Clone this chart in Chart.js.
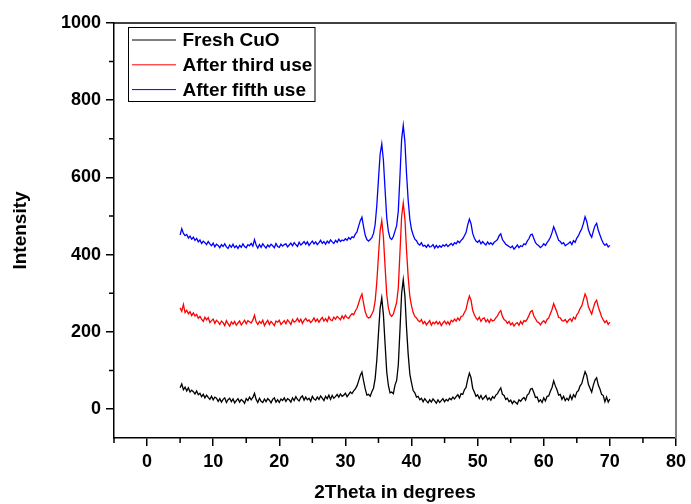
<!DOCTYPE html>
<html>
<head>
<meta charset="utf-8">
<title>XRD CuO</title>
<script src="https://cdn.jsdelivr.net/npm/chart.js@4.4.1/dist/chart.umd.min.js"></script>
<style>
html, body { margin: 0; padding: 0; background: #fff; }
#xrd-wrap { width: 691px; height: 504px; }
</style>
</head>
<body>
<div id="xrd-wrap"><canvas id="xrd-chart" width="691" height="504"></canvas></div>
<script>
// 2theta sampling of the scans (degrees)
const twoThetaStart = 5.0;
const twoThetaStep = 0.25;

// intensities, one group per degree (.00 .25 .50 .75)
const freshCuO = [
    55, 65, 50, 57,   47, 55, 44, 49,   45, 39, 47, 37,   41, 32, 38, 29,   36, 30, 25, 33,
    24, 31, 28, 20,   27, 18, 25, 29,   17, 24, 28, 19,   26, 16, 22, 27,   18, 25, 21, 15,
    27, 22, 31, 24,   30, 41, 25, 17,   28, 20, 17, 26,   19, 27, 23, 16,   25, 29, 18, 24,
    17, 26, 22, 29,   20, 27, 24, 18,   29, 22, 32, 25,   21, 30, 34, 23,   31, 24, 28, 20,
    33, 26, 23, 31,   25, 34, 28, 22,   33, 27, 36, 25,   35, 28, 32, 38,   31, 39, 33, 36,
    41, 32, 38, 44,   40, 47, 52, 60,   73, 87, 96, 73,   52, 36, 38, 33,   45, 54, 79, 127,
    196, 261, 288, 244,   169, 96, 61, 42,   44, 40, 62, 74,   114, 204, 299, 335,   293, 209, 141, 90,
    68, 48, 42, 31,   33, 24, 28, 19,   27, 21, 16, 24,   18, 26, 21, 15,   24, 17, 22, 27,
    19, 25, 21, 28,   24, 31, 26, 32,   37, 29, 40, 38,   50, 56, 77, 93,   81, 54, 44, 33,
    37, 27, 35, 25,   30, 35, 24, 29,   23, 32, 28, 36,   40, 48, 55, 38,   35, 25, 28, 19,
    23, 14, 21, 17,   13, 24, 20, 26,   30, 23, 36, 40,   52, 53, 43, 30,   31, 19, 24, 17,
    29, 21, 33, 34,   46, 56, 73, 60,   50, 36, 38, 25,   33, 22, 28, 23,   36, 25, 37, 31,
    44, 48, 60, 66,   82, 97, 87, 64,   54, 44, 62, 75,   81, 62, 52, 38,   35, 19, 31, 18,
    26
];

const thirdUse = [
    262, 253, 271, 250,   256, 247, 252, 242,   249, 241, 245, 235,   240, 233, 227, 238,   231, 237, 224, 229,
    233, 222, 230, 226,   219, 228, 224, 216,   229, 221, 215, 226,   220, 227, 217, 223,   228, 218, 224, 230,
    221, 229, 226, 223,   231, 243, 226, 219,   227, 222, 230, 216,   224, 230, 219, 227,   222, 216, 228, 225,
    230, 219, 224, 229,   221, 231, 226, 219,   232, 225, 228, 235,   226, 233, 222, 230,   235, 228, 231, 224,
    229, 236, 227, 233,   225, 232, 237, 228,   234, 227, 239, 231,   229, 238, 233, 240,   236, 231, 241, 234,
    243, 237, 235, 242,   247, 244, 254, 261,   274, 288, 298, 274,   252, 240, 236, 238,   246, 255, 280, 329,
    397, 461, 488, 445,   369, 297, 262, 245,   240, 246, 261, 276,   314, 405, 498, 534,   493, 410, 341, 291,
    267, 250, 240, 236,   229, 226, 232, 221,   227, 218, 224, 229,   217, 225, 221, 227,   220, 226, 216, 223,
    228, 220, 226, 219,   230, 226, 233, 228,   236, 230, 240, 241,   250, 258, 278, 293,   282, 256, 244, 236,
    231, 238, 227, 234,   236, 226, 232, 224,   233, 228, 230, 236,   241, 250, 255, 240,   232, 229, 222, 227,
    218, 223, 215, 221,   224, 217, 227, 220,   229, 227, 233, 242,   252, 255, 241, 234,   226, 224, 218, 225,
    229, 223, 232, 236,   247, 258, 273, 262,   251, 237, 236, 229,   228, 232, 224, 230,   234, 227, 238, 233,
    244, 250, 261, 267,   283, 298, 288, 265,   255, 246, 262, 276,   282, 264, 252, 239,   231, 224, 229, 219,
    225
];

const fifthUse = [
    451, 467, 455, 449,   452, 443, 448, 440,   445, 437, 442, 433,   438, 429, 435, 431,   426, 434, 428, 423,
    430, 420, 427, 424,   418, 426, 421, 428,   420, 416, 425, 419,   427, 418, 423, 416,   424, 419, 428, 421,
    418, 426, 423, 429,   422, 439, 425, 417,   426, 419, 428, 422,   417, 425, 420, 427,   423, 418, 429, 421,
    419, 427, 422, 426,   428, 420, 425, 430,   423, 431, 426, 421,   432, 425, 429, 434,   427, 433, 424, 430,
    435, 428, 433, 426,   431, 437, 429, 434,   427, 435, 430, 438,   433, 429, 437, 432,   440, 434, 438, 436,
    441, 437, 444, 440,   446, 444, 453, 459,   474, 488, 497, 472,   450, 439, 435, 439,   444, 455, 478, 528,
    595, 660, 687, 644,   568, 496, 460, 443,   439, 447, 461, 475,   513, 603, 698, 735,   692, 608, 540, 491,
    465, 451, 440, 436,   428, 425, 431, 422,   424, 419, 426, 420,   421, 426, 417, 424,   418, 423, 419, 425,
    422, 427, 421, 425,   429, 424, 431, 428,   435, 431, 437, 441,   449, 457, 477, 492,   480, 455, 443, 435,
    432, 437, 428, 434,   429, 425, 433, 427,   431, 426, 432, 435,   439, 449, 454, 439,   433, 427, 424, 421,
    418, 422, 414, 419,   425, 418, 423, 421,   428, 426, 435, 441,   451, 453, 442, 431,   426, 423, 418, 422,
    428, 424, 431, 437,   445, 457, 472, 461,   449, 437, 434, 428,   431, 423, 426, 429,   433, 426, 436, 432,
    443, 449, 459, 467,   481, 498, 486, 465,   453, 445, 461, 475,   481, 463, 451, 439,   430, 424, 428, 420,
    424
];

const seriesNames = ['Fresh CuO', 'After third use', 'After fifth use'];
const seriesColors = ['#000000', '#ff0000', '#0000ff'];

const xTicks = [0, 10, 20, 30, 40, 50, 60, 70, 80];
const xMinorTicks = [-5, 5, 15, 25, 35, 45, 55, 65, 75];
const yTicks = [0, 200, 400, 600, 800, 1000];
const yMinorTicks = [100, 300, 500, 700, 900];

const toPoints = arr => arr.map((v, i) => ({ x: twoThetaStart + i * twoThetaStep, y: v }));

const tickFont = { family: '"Liberation Sans", Arial, sans-serif', size: 18, weight: 'bold' };
const titleFont = { family: '"Liberation Sans", Arial, sans-serif', size: 19, weight: 'bold' };

// top/right frame edges, short minor ticks and the boxed legend
const framePlugin = {
    id: 'frame',
    afterDraw(chart) {
        const { ctx, chartArea: a, scales } = chart;
        ctx.save();
        ctx.lineWidth = 1.5;
        ctx.strokeStyle = '#000';
        ctx.beginPath();
        ctx.moveTo(a.left, a.top);
        ctx.lineTo(a.right, a.top);
        ctx.stroke();

        ctx.lineWidth = 2;
        ctx.strokeStyle = '#808080';
        ctx.beginPath();
        ctx.moveTo(a.right, a.top - 0.75);
        ctx.lineTo(a.right, a.bottom);
        ctx.stroke();

        ctx.lineWidth = 1.5;
        ctx.strokeStyle = '#000';
        ctx.beginPath();
        xMinorTicks.forEach(v => {
            const px = scales.x.getPixelForValue(v);
            ctx.moveTo(px, a.bottom);
            ctx.lineTo(px, a.bottom + 5);
        });
        yMinorTicks.forEach(v => {
            const py = scales.y.getPixelForValue(v);
            ctx.moveTo(a.left, py);
            ctx.lineTo(a.left - 5, py);
        });
        ctx.stroke();

        // legend
        const lx = a.left + 14.5, ly = a.top + 4.5;
        ctx.lineWidth = 1;
        ctx.strokeStyle = '#000';
        ctx.strokeRect(lx, ly, 186.5, 74);
        ctx.font = 'bold 19px "Liberation Sans", Arial, sans-serif';
        ctx.textBaseline = 'middle';
        ctx.fillStyle = '#000';
        chart.data.datasets.forEach((ds, i) => {
            const rowY = ly + 12.5 + i * 24.8;
            ctx.strokeStyle = ds.borderColor;
            ctx.beginPath();
            ctx.moveTo(lx + 3.5, rowY);
            ctx.lineTo(lx + 47.5, rowY);
            ctx.stroke();
            ctx.fillText(ds.label, lx + 54, rowY + 1);
        });
        ctx.restore();
    }
};

new Chart(document.getElementById('xrd-chart'), {
    type: 'line',
    data: {
        datasets: [freshCuO, thirdUse, fifthUse].map((arr, i) => ({
            label: seriesNames[i],
            data: toPoints(arr),
            borderColor: seriesColors[i],
            borderWidth: 1.3,
            pointRadius: 0,
            tension: 0,
            fill: false
        }))
    },
    options: {
        responsive: false,
        animation: false,
        devicePixelRatio: 1,
        layout: { padding: { top: 23, right: 12, left: 0, bottom: 0 } },
        plugins: {
            legend: { display: false },
            tooltip: { enabled: false }
        },
        scales: {
            x: {
                type: 'linear',
                min: -5,
                max: 80,
                afterBuildTicks: s => { s.ticks = xTicks.map(v => ({ value: v })); },
                afterFit: s => { s.height = 66; },
                grid: { drawOnChartArea: false, tickLength: 8, color: '#000', lineWidth: 1.5 },
                border: { color: '#000', width: 1.5 },
                ticks: { color: '#000', font: tickFont, padding: 5, maxRotation: 0, autoSkip: false, callback: v => String(v) },
                title: { display: true, text: '2Theta in degrees', color: '#000', font: titleFont, padding: { top: 0, bottom: 0 } }
            },
            y: {
                type: 'linear',
                min: -75,
                max: 1000,
                afterBuildTicks: s => { s.ticks = yTicks.map(v => ({ value: v })); },
                afterFit: s => { s.width = 114; },
                grid: { drawOnChartArea: false, tickLength: 8, color: '#000', lineWidth: 1.5 },
                border: { color: '#000', width: 1.5 },
                ticks: { color: '#000', font: tickFont, padding: 5, callback: v => String(v) },
                title: { display: true, text: 'Intensity', color: '#000', font: titleFont, padding: { top: 9, bottom: 0 } }
            }
        }
    },
    plugins: [framePlugin]
});
</script>
</body>
</html>
